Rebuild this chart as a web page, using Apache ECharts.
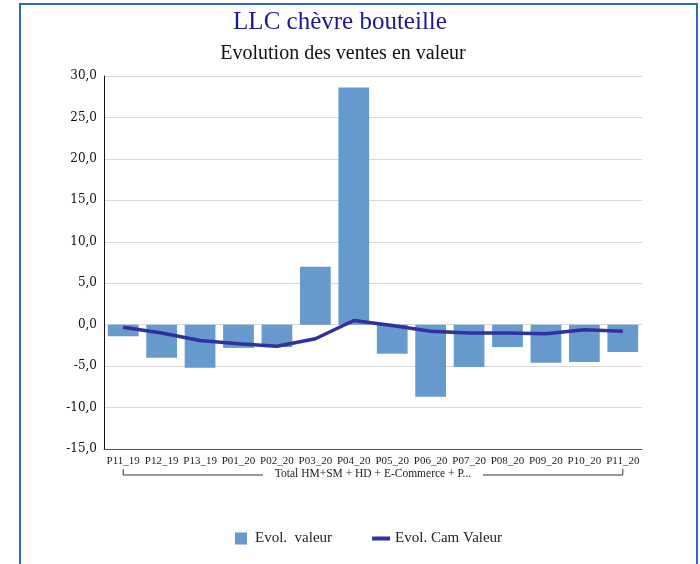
<!DOCTYPE html>
<html>
<head>
<meta charset="utf-8">
<script src="https://cdn.jsdelivr.net/npm/echarts@6/dist/echarts.min.js"></script>
<style>
html,body{margin:0;padding:0;background:#fff;}
#frame{position:absolute;left:19px;top:3px;width:679px;height:600px;border:2px solid #2a6ab8;box-sizing:border-box;}
#chart{position:absolute;left:0;top:0;width:700px;height:564px;}
</style>
</head>
<body>
<div id="frame"></div>
<div id="chart"></div>
<script>
const categories = ['P11_19','P12_19','P13_19','P01_20','P02_20','P03_20','P04_20','P05_20','P06_20','P07_20','P08_20','P09_20','P10_20','P11_20'];
const evolValeur = [-1.4,-4.0,-5.2,-2.8,-2.7,7.0,28.6,-3.5,-8.7,-5.1,-2.7,-4.6,-4.5,-3.3];
const evolCamValeur = [-0.3,-1.0,-1.9,-2.3,-2.6,-1.7,0.5,-0.1,-0.8,-1.0,-1.0,-1.1,-0.6,-0.8];
const groupLabel = 'Total HM+SM + HD + E-Commerce + P...';
const titleText = 'LLC chèvre bouteille';
const subtitleText = 'Evolution des ventes en valeur';
const seriesNames = ['Evol.  valeur', 'Evol. Cam Valeur'];

const FONT = '"Liberation Serif", serif';
const FONT2 = '"DejaVu Serif", serif';
const chart = echarts.init(document.getElementById('chart'), null, {renderer:'canvas'});
const option = {
  animation:false,
  backgroundColor:'transparent',
  title:[
    {text:titleText,left:335,textAlign:'center',top:5,textStyle:{fontFamily:FONT,fontSize:25,fontWeight:'normal',color:'#1a1a8c'}},
    {text:subtitleText,left:338,textAlign:'center',top:39,textStyle:{fontFamily:FONT,fontSize:20,fontWeight:'normal',color:'#111'}}
  ],
  grid:{left:104,right:58,top:76,bottom:115},
  legend:{
    bottom:13,left:230,itemGap:40,itemWidth:18,itemHeight:12,
    textStyle:{fontFamily:FONT,fontSize:15,color:'#222'},
    data:[
      {name:seriesNames[0],icon:'path://M0,0h10v10h-10z'},
      {name:seriesNames[1],icon:'path://M0,0h18v4h-18z'}
    ]
  },
  xAxis:{
    type:'category',data:categories,
    axisLine:{onZero:false,lineStyle:{color:'#555',width:1}},
    axisTick:{show:false},
    axisLabel:{interval:0,fontFamily:FONT,fontSize:11,color:'#222',margin:7}
  },
  yAxis:{
    type:'value',min:-15,max:30,interval:5,
    axisLine:{show:true,lineStyle:{color:'#111',width:1}},
    axisTick:{show:false},
    splitLine:{lineStyle:{color:'#d9d9d9',width:1}},
    axisLabel:{fontFamily:FONT2,fontSize:12,color:'#111',margin:7,formatter:v=>v.toFixed(1).replace('.',',')}
  },
  series:[
    {name:seriesNames[0],type:'bar',data:evolValeur,barWidth:'80%',itemStyle:{color:'#6699cc'}},
    {name:seriesNames[1],type:'line',data:evolCamValeur,symbol:'none',lineStyle:{color:'#3030a0',width:3.5},itemStyle:{color:'#3030a0'},z:5}
  ]
};
chart.setOption(option);

// group bracket under the category labels
const x0 = chart.convertToPixel({xAxisIndex:0}, categories[0]);
const x1 = chart.convertToPixel({xAxisIndex:0}, categories[categories.length-1]);
const yb = chart.convertToPixel({yAxisIndex:0}, -15);
const by = yb + 26, ty = by - 6;
const mid = (x0 + x1) / 2;
const gapHalf = 110;
chart.setOption({graphic:[
  {type:'polyline',shape:{points:[[x0,ty],[x0,by],[mid-gapHalf,by]]},style:{stroke:'#333',lineWidth:1,fill:null},silent:true},
  {type:'polyline',shape:{points:[[mid+gapHalf,by],[x1,by],[x1,ty]]},style:{stroke:'#333',lineWidth:1,fill:null},silent:true},
  {type:'text',x:mid,y:by-1,style:{text:groupLabel,fontFamily:FONT,fontSize:11.5,fill:'#222',align:'center',verticalAlign:'middle'},silent:true}
]});
</script>
</body>
</html>
